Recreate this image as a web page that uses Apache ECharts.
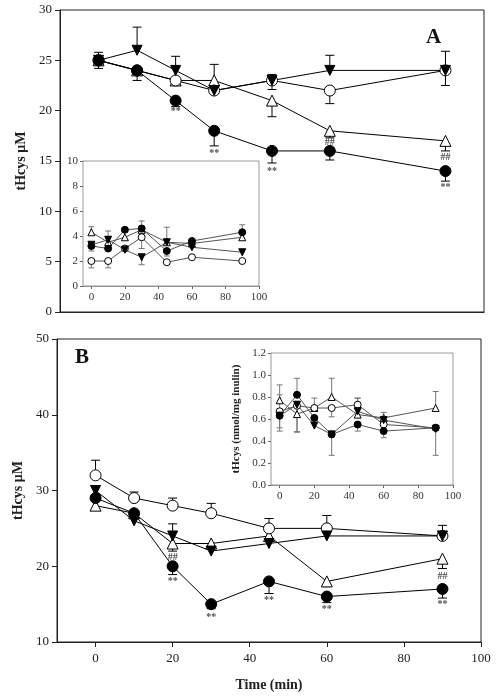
<!DOCTYPE html>
<html><head><meta charset="utf-8">
<script src="https://cdn.jsdelivr.net/npm/echarts@6/dist/echarts.min.js"></script>
<style>html,body{margin:0;padding:0;background:#fff}#c{width:497px;height:697px}</style>
</head><body><div id="c"></div>
<script>
// ---------- data ----------
const times = [0, 10, 20, 30, 45, 60, 90];
const xTicks = [0, 20, 40, 60, 80, 100];

// Panel A main (tHcys µM)
const A_filledCircle = [25, 24, 21, 18, 16, 16, 14];
const A_filledCircle_up = [0.8, 0, 0, 0, 0, 0, 0];
const A_filledCircle_dn = [0.8, 1.0, 0.6, 1.5, 1.2, 0.9, 1.0];
const A_triDown = [25, 26, 24, 22, 23, 24, 24];
const A_triDown_up = [0, 2.3, 1.4, 0, 0, 1.5, 0];
const A_triDown_dn = [0, 0, 0, 0, 0, 0, 0];
const A_openCircle = [25, 24, 23, 22, 23, 22, 24];
const A_openCircle_up = [0, 0, 0, 0, 0.6, 0, 1.9];
const A_openCircle_dn = [0, 0, 0, 0, 0.9, 1.3, 1.5];
const A_openTri = [25, 24, 23, 23, 21, 18, 17];
const A_openTri_up = [0, 0, 0, 1.6, 0, 0, 0];
const A_openTri_dn = [0, 0, 0, 0, 1.6, 0.7, 1.0];
const A_marks = [[20, 19.9, '**'], [30, 15.8, '**'], [45, 14.0, '**'], [90, 12.4, '**'], [60, 16.8, '##'], [90, 15.4, '##']];

// Panel A inset
const iA_filledCircle = [3.2, 3.0, 4.5, 4.6, 2.8, 3.6, 4.3];
const iA_filledCircle_up = [0, 0, 0, 0.6, 0, 0, 0.6];
const iA_filledCircle_dn = [0.4, 0, 0, 0, 0.4, 0, 0];
const iA_triDown = [3.3, 3.7, 2.9, 2.3, 3.5, 3.1, 2.7];
const iA_triDown_up = [0, 0.7, 0, 0, 0, 0, 0];
const iA_triDown_dn = [0, 0, 0, 0.6, 0, 0, 0];
const iA_openCircle = [2.0, 2.0, 3.0, 3.9, 1.9, 2.3, 2.0];
const iA_openCircle_up = [0, 0, 0, 0, 0, 0, 0];
const iA_openCircle_dn = [0.55, 0.55, 0, 0.9, 0, 0, 0];
const iA_openTri = [4.3, 3.5, 3.9, 4.5, 3.5, 3.4, 3.9];
const iA_openTri_up = [0.45, 0, 0, 0.3, 1.2, 0, 0];
const iA_openTri_dn = [0, 0, 0, 0, 0, 0, 0];

// Panel B main
const B_openCircle = [32, 29, 28, 27, 25, 25, 24];
const B_openCircle_up = [2.0, 0.8, 1.0, 1.3, 1.3, 1.7, 1.4];
const B_openCircle_dn = [0, 0, 0, 0, 0, 0, 0];
const B_triDown = [30, 26, 24, 22, 23, 24, 24];
const B_triDown_up = [0, 0, 1.6, 0, 0, 0, 0];
const B_triDown_dn = [0, 0, 0, 0, 0, 0, 0];
const B_openTri = [28, 27, 23, 23, 24, 18, 21];
const B_openTri_up = [0, 0, 0, 0, 0, 0, 0];
const B_openTri_dn = [0, 0, 1.0, 0, 0, 0.7, 1.3];
const B_filledCircle = [29, 27, 20, 15, 18, 16, 17];
const B_filledCircle_up = [0, 0, 0, 0, 0, 0, 0];
const B_filledCircle_dn = [0, 0, 1.1, 0.6, 1.6, 0.8, 1.2];
const B_marks = [[20, 18.0, '**'], [30, 13.3, '**'], [45, 15.5, '**'], [60, 14.3, '**'], [90, 14.9, '**'], [20, 21.2, '##'], [90, 18.7, '##']];

// Panel B inset (nmol/mg inulin)
const iB_filledCircle = [0.63, 0.82, 0.61, 0.46, 0.55, 0.49, 0.52];
const iB_filledCircle_up = [0, 0.15, 0, 0, 0, 0, 0];
const iB_filledCircle_dn = [0.14, 0, 0, 0, 0.06, 0.06, 0];
const iB_triDown = [0.63, 0.73, 0.54, 0.46, 0.67, 0.59, 0.51];
const iB_triDown_up = [0, 0, 0, 0, 0, 0, 0];
const iB_triDown_dn = [0, 0.25, 0, 0.19, 0, 0, 0.24];
const iB_openCircle = [0.67, 0.72, 0.70, 0.70, 0.73, 0.55, 0.52];
const iB_openCircle_up = [0.15, 0, 0, 0, 0.06, 0, 0];
const iB_openCircle_dn = [0.15, 0, 0, 0.08, 0, 0, 0];
const iB_openTri = [0.77, 0.645, 0.70, 0.80, 0.64, 0.61, 0.70];
const iB_openTri_up = [0.14, 0, 0.09, 0.17, 0.15, 0.05, 0.15];
const iB_openTri_dn = [0, 0.16, 0, 0, 0, 0, 0];

// ---------- build ----------
const FONT = 'Liberation Serif';
const styles = {
  fc: { symbol: 'circle', rot: 0, fill: '#000', size: 11, isize: 7 },
  oc: { symbol: 'circle', rot: 0, fill: '#fff', size: 11, isize: 7 },
  td: { symbol: 'triangle', rot: 180, fill: '#000', size: 10, isize: 7 },
  ot: { symbol: 'triangle', rot: 0, fill: '#fff', size: 11, isize: 7 }
};

function lineSeries(idx, vals, st, inset) {
  return {
    type: 'line', xAxisIndex: idx, yAxisIndex: idx,
    data: times.map((t, i) => [t, vals[i]]),
    symbol: st.symbol, symbolRotate: st.rot,
    symbolSize: inset ? st.isize : st.size,
    showSymbol: true, animation: false, z: inset ? 6 : 3,
    lineStyle: { color: inset ? '#555' : '#000', width: 1 },
    itemStyle: { color: st.fill, borderColor: '#000', borderWidth: 1, opacity: 1 },
    emphasis: { disabled: true }
  };
}

function errSeries(idx, vals, up, dn, inset) {
  const half = inset ? 3 : 4.5;
  const col = inset ? '#777' : '#000';
  return {
    type: 'custom', xAxisIndex: idx, yAxisIndex: idx, z: inset ? 5 : 2,
    animation: false, silent: true,
    data: times.map((t, i) => [t, vals[i], up[i], dn[i]]).filter(d => d[2] > 0 || d[3] > 0),
    encode: { x: 0, y: 1 },
    renderItem: function (params, api) {
      const x = api.value(0), y = api.value(1), u = api.value(2), d = api.value(3);
      const top = api.coord([x, y + u]);
      const bot = api.coord([x, y - d]);
      const ch = [{ type: 'line', shape: { x1: top[0], y1: top[1], x2: bot[0], y2: bot[1] }, style: { stroke: col, lineWidth: 1 } }];
      if (u > 0) ch.push({ type: 'line', shape: { x1: top[0] - half, y1: top[1], x2: top[0] + half, y2: top[1] }, style: { stroke: col, lineWidth: 1 } });
      if (d > 0) ch.push({ type: 'line', shape: { x1: bot[0] - half, y1: bot[1], x2: bot[0] + half, y2: bot[1] }, style: { stroke: col, lineWidth: 1 } });
      return { type: 'group', children: ch };
    }
  };
}

function markSeries(idx, marks) {
  return {
    type: 'scatter', xAxisIndex: idx, yAxisIndex: idx, symbolSize: 0, z: 4,
    animation: false, silent: true,
    data: marks.map(m => ({ value: [m[0], m[1]], name: m[2] })),
    label: { show: true, position: 'inside', formatter: p => p.name, fontFamily: FONT, fontSize: 10, fontWeight: 'bold', color: '#222' }
  };
}

function group(idx, sets, inset) {
  const out = [];
  sets.forEach(s => out.push(errSeries(idx, s[0], s[1], s[2], inset)));
  sets.forEach(s => out.push(lineSeries(idx, s[0], s[3], inset)));
  return out;
}

const series = [].concat(
  group(0, [
    [A_openTri, A_openTri_up, A_openTri_dn, styles.ot],
    [A_openCircle, A_openCircle_up, A_openCircle_dn, styles.oc],
    [A_triDown, A_triDown_up, A_triDown_dn, styles.td],
    [A_filledCircle, A_filledCircle_up, A_filledCircle_dn, styles.fc]
  ], false),
  [markSeries(0, A_marks)],
  group(1, [
    [iA_openTri, iA_openTri_up, iA_openTri_dn, styles.ot],
    [iA_openCircle, iA_openCircle_up, iA_openCircle_dn, styles.oc],
    [iA_triDown, iA_triDown_up, iA_triDown_dn, styles.td],
    [iA_filledCircle, iA_filledCircle_up, iA_filledCircle_dn, styles.fc]
  ], true),
  group(2, [
    [B_openTri, B_openTri_up, B_openTri_dn, styles.ot],
    [B_openCircle, B_openCircle_up, B_openCircle_dn, styles.oc],
    [B_triDown, B_triDown_up, B_triDown_dn, styles.td],
    [B_filledCircle, B_filledCircle_up, B_filledCircle_dn, styles.fc]
  ], false),
  [markSeries(2, B_marks)],
  group(3, [
    [iB_openTri, iB_openTri_up, iB_openTri_dn, styles.ot],
    [iB_openCircle, iB_openCircle_up, iB_openCircle_dn, styles.oc],
    [iB_triDown, iB_triDown_up, iB_triDown_dn, styles.td],
    [iB_filledCircle, iB_filledCircle_up, iB_filledCircle_dn, styles.fc]
  ], true)
);

const mainLabel = { fontFamily: FONT, fontSize: 13, color: '#222' };
const insetLabel = { fontFamily: FONT, fontSize: 11, color: '#333' };

function xAxis(idx, min, showLabels, inset) {
  return {
    type: 'value', gridIndex: idx, min: min, max: 100,
    splitLine: { show: false },
    axisLine: { show: true, onZero: false, lineStyle: { color: inset ? '#888' : '#222', width: 1 } },
    axisTick: { show: showLabels, customValues: xTicks, length: inset ? 3 : 5, inside: false, lineStyle: { color: inset ? '#666' : '#222' } },
    axisLabel: Object.assign({ show: showLabels, customValues: xTicks, margin: inset ? 6 : 10 }, inset ? insetLabel : mainLabel)
  };
}
function yAxis(idx, min, max, interval, inset, extra) {
  return Object.assign({
    type: 'value', gridIndex: idx, min: min, max: max, interval: interval,
    splitLine: { show: false },
    axisLine: { show: true, onZero: false, lineStyle: { color: inset ? '#888' : '#222', width: 1 } },
    axisTick: { show: true, length: inset ? 3 : 5, lineStyle: { color: inset ? '#666' : '#222' } },
    axisLabel: Object.assign({ margin: inset ? 5 : 8 }, inset ? insetLabel : mainLabel)
  }, extra || {});
}

const option = {
  backgroundColor: '#fff',
  animation: false,
  grid: [
    { left: 60, top: 10, width: 424, height: 302, show: true, borderColor: '#222', borderWidth: 1, backgroundColor: 'transparent' },
    { left: 83, top: 161, width: 176, height: 125, show: true, borderColor: '#999', borderWidth: 1, backgroundColor: '#fff', z: 3 },
    { left: 57, top: 339, width: 424, height: 303, show: true, borderColor: '#222', borderWidth: 1, backgroundColor: 'transparent' },
    { left: 271, top: 353, width: 182, height: 132, show: true, borderColor: '#999', borderWidth: 1, backgroundColor: '#fff', z: 3 }
  ],
  xAxis: [
    xAxis(0, -10, false, false),
    xAxis(1, -5, true, true),
    Object.assign(xAxis(2, -10, true, false), {
      name: 'Time (min)', nameLocation: 'middle', nameGap: 36,
      nameTextStyle: { fontFamily: FONT, fontSize: 14, fontWeight: 'bold', color: '#222' }
    }),
    xAxis(3, -5, true, true)
  ],
  yAxis: [
    yAxis(0, 0, 30, 5, false, {
      name: 'tHcys μM', nameLocation: 'middle', nameGap: 30,
      nameTextStyle: { fontFamily: FONT, fontSize: 14, fontWeight: 'bold', color: '#222' }
    }),
    yAxis(1, 0, 10, 2, true),
    yAxis(2, 10, 50, 10, false, {
      name: 'tHcys μM', nameLocation: 'middle', nameGap: 27,
      nameTextStyle: { fontFamily: FONT, fontSize: 14, fontWeight: 'bold', color: '#222' }
    }),
    yAxis(3, 0, 1.2, 0.2, true, {
      axisLabel: Object.assign({ margin: 5, formatter: v => v.toFixed(1) }, insetLabel),
      name: 'tHcys (nmol/mg inulin)', nameLocation: 'middle', nameGap: 29,
      nameTextStyle: { fontFamily: FONT, fontSize: 11, fontWeight: 'bold', color: '#222' }
    })
  ],
  graphic: [
    { type: 'text', left: 426, top: 27, style: { text: 'A', fontFamily: FONT, fontSize: 21, fontWeight: 'bold', fill: '#111' } },
    { type: 'text', left: 75, top: 347, style: { text: 'B', fontFamily: FONT, fontSize: 21, fontWeight: 'bold', fill: '#111' } }
  ],
  series: series
};

const chart = echarts.init(document.getElementById('c'), null, { renderer: 'canvas' });
chart.setOption(option);
</script>
</body></html>
